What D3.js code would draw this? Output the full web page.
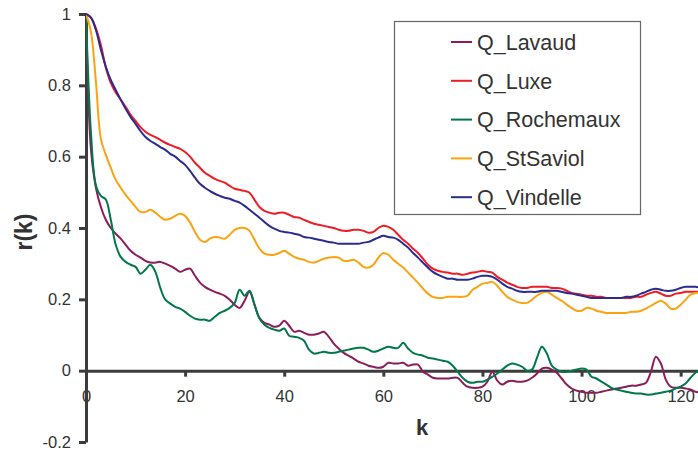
<!DOCTYPE html>
<html>
<head>
<meta charset="utf-8">
<script src="https://cdn.jsdelivr.net/npm/d3@7"></script>
<style>
  body { margin: 0; background: #fff; }
  svg { display: block; font-family: "Liberation Sans", Arial, sans-serif; }
</style>
</head>
<body>
<div id="graph"></div>
<script>
// autocorrelation r(k), lags 0..124
const lavaud = [
  1.0, 0.62, 0.513, 0.459, 0.423, 0.40, 0.384, 0.37, 0.353, 0.336,
  0.325, 0.317, 0.308, 0.303, 0.303, 0.305, 0.30, 0.294, 0.286, 0.277,
  0.283, 0.286, 0.266, 0.247, 0.235, 0.227, 0.221, 0.216, 0.21, 0.199,
  0.185, 0.176, 0.196, 0.221, 0.185, 0.148, 0.134, 0.129, 0.123, 0.126,
  0.14, 0.126, 0.109, 0.112, 0.106, 0.101, 0.101, 0.104, 0.109, 0.095,
  0.076, 0.062, 0.05, 0.042, 0.034, 0.025, 0.02, 0.014, 0.011, 0.008,
  0.011, 0.022, 0.02, 0.02, 0.022, 0.014, 0.017, 0.017, -0.003, -0.011,
  -0.02, -0.022, -0.022, -0.022, -0.02, -0.02, -0.034, -0.045, -0.048, -0.048,
  -0.045, -0.031, -0.003, -0.028, -0.039, -0.031, -0.028, -0.031, -0.031, -0.028,
  -0.02, -0.008, 0.006, 0.008, 0.003, -0.006, -0.022, -0.039, -0.05, -0.056,
  -0.059, -0.062, -0.062, -0.062, -0.059, -0.056, -0.053, -0.05, -0.048, -0.045,
  -0.042, -0.042, -0.039, -0.034, -0.003, 0.039, 0.02, -0.025, -0.045, -0.048,
  -0.048, -0.05, -0.053, -0.059, -0.062,
];
const luxe = [
  1.0, 0.99, 0.96, 0.913, 0.85, 0.807, 0.78, 0.76, 0.74, 0.717,
  0.70, 0.683, 0.67, 0.661, 0.655, 0.647, 0.639, 0.633, 0.627, 0.622,
  0.613, 0.60, 0.583, 0.569, 0.555, 0.546, 0.538, 0.532, 0.527, 0.518,
  0.51, 0.507, 0.504, 0.499, 0.479, 0.459, 0.448, 0.443, 0.44, 0.443,
  0.443, 0.437, 0.431, 0.429, 0.423, 0.417, 0.412, 0.409, 0.406, 0.403,
  0.40, 0.395, 0.392, 0.392, 0.395, 0.395, 0.392, 0.387, 0.389, 0.40,
  0.406, 0.403, 0.395, 0.381, 0.367, 0.356, 0.342, 0.33, 0.314, 0.297,
  0.286, 0.28, 0.277, 0.275, 0.272, 0.272, 0.269, 0.272, 0.275, 0.277,
  0.28, 0.277, 0.275, 0.263, 0.255, 0.247, 0.241, 0.235, 0.232, 0.232,
  0.235, 0.235, 0.235, 0.235, 0.232, 0.232, 0.23, 0.224, 0.218, 0.216,
  0.213, 0.21, 0.21, 0.207, 0.207, 0.204, 0.204, 0.204, 0.204, 0.204,
  0.204, 0.207, 0.207, 0.213, 0.218, 0.221, 0.216, 0.21, 0.21, 0.216,
  0.218, 0.221, 0.221, 0.221, 0.221,
];
const rochemaux = [
  1.0, 0.667, 0.52, 0.49, 0.48, 0.423, 0.353, 0.319, 0.305, 0.297,
  0.291, 0.272, 0.283, 0.297, 0.277, 0.232, 0.199, 0.188, 0.179, 0.174,
  0.165, 0.154, 0.146, 0.143, 0.143, 0.14, 0.151, 0.162, 0.168, 0.176,
  0.19, 0.227, 0.21, 0.224, 0.185, 0.146, 0.129, 0.12, 0.115, 0.112,
  0.118, 0.098, 0.095, 0.092, 0.084, 0.059, 0.048, 0.05, 0.053, 0.05,
  0.05, 0.053, 0.056, 0.059, 0.062, 0.064, 0.064, 0.059, 0.053, 0.056,
  0.062, 0.067, 0.064, 0.064, 0.078, 0.062, 0.05, 0.045, 0.042, 0.036,
  0.034, 0.031, 0.028, 0.025, 0.014, -0.003, -0.02, -0.031, -0.034, -0.031,
  -0.031, -0.025, -0.017, -0.008, 0.003, 0.014, 0.02, 0.017, 0.011, 0.0,
  0.003, 0.036, 0.067, 0.048, 0.014, 0.003, -0.003, -0.003, 0.0, 0.003,
  0.006, 0.003, -0.017, -0.022, -0.031, -0.039, -0.048, -0.053, -0.056, -0.059,
  -0.062, -0.064, -0.064, -0.067, -0.067, -0.064, -0.062, -0.059, -0.056, -0.05,
  -0.045, -0.036, -0.02, -0.006, 0.003,
];
const stsaviol = [
  1.0, 0.95, 0.81, 0.65, 0.605, 0.569, 0.535, 0.513, 0.493, 0.476,
  0.459, 0.445, 0.445, 0.451, 0.443, 0.431, 0.423, 0.426, 0.434, 0.44,
  0.434, 0.415, 0.389, 0.367, 0.361, 0.37, 0.375, 0.373, 0.37, 0.381,
  0.395, 0.40, 0.40, 0.392, 0.367, 0.342, 0.328, 0.325, 0.325, 0.33,
  0.336, 0.328, 0.319, 0.314, 0.311, 0.305, 0.303, 0.308, 0.314, 0.317,
  0.319, 0.317, 0.308, 0.308, 0.311, 0.303, 0.291, 0.289, 0.297, 0.317,
  0.33, 0.325, 0.311, 0.30, 0.289, 0.275, 0.261, 0.246, 0.23, 0.216,
  0.207, 0.204, 0.204, 0.207, 0.207, 0.207, 0.207, 0.21, 0.227, 0.235,
  0.244, 0.246, 0.249, 0.238, 0.221, 0.207, 0.199, 0.193, 0.19, 0.19,
  0.199, 0.21, 0.218, 0.221, 0.213, 0.204, 0.196, 0.185, 0.176, 0.168,
  0.168, 0.176, 0.174, 0.168, 0.165, 0.162, 0.162, 0.162, 0.162, 0.162,
  0.165, 0.165, 0.168, 0.174, 0.182, 0.19, 0.196, 0.188, 0.174, 0.174,
  0.185, 0.199, 0.213, 0.218, 0.218,
];
const vindelle = [
  1.0, 0.99, 0.955, 0.9, 0.852, 0.815, 0.787, 0.76, 0.734, 0.711,
  0.692, 0.672, 0.655, 0.644, 0.636, 0.627, 0.619, 0.608, 0.6, 0.588,
  0.577, 0.56, 0.541, 0.524, 0.513, 0.504, 0.496, 0.49, 0.485, 0.482,
  0.476, 0.471, 0.462, 0.451, 0.44, 0.429, 0.417, 0.406, 0.398, 0.392,
  0.389, 0.387, 0.384, 0.381, 0.375, 0.373, 0.37, 0.367, 0.364, 0.361,
  0.359, 0.356, 0.356, 0.356, 0.356, 0.356, 0.359, 0.361, 0.367, 0.373,
  0.378, 0.375, 0.373, 0.367, 0.356, 0.345, 0.33, 0.317, 0.303, 0.289,
  0.277, 0.269, 0.263, 0.258, 0.258, 0.255, 0.255, 0.255, 0.258, 0.263,
  0.266, 0.266, 0.263, 0.255, 0.244, 0.235, 0.23, 0.224, 0.221, 0.221,
  0.221, 0.221, 0.224, 0.224, 0.224, 0.224, 0.221, 0.218, 0.216, 0.213,
  0.21, 0.207, 0.204, 0.204, 0.204, 0.204, 0.204, 0.204, 0.204, 0.207,
  0.207, 0.21, 0.216, 0.221, 0.227, 0.23, 0.227, 0.224, 0.224, 0.227,
  0.232, 0.235, 0.235, 0.235, 0.232,
];
const seriesNames = ["Q_Lavaud", "Q_Luxe", "Q_Rochemaux", "Q_StSaviol", "Q_Vindelle"];
const seriesValues = [lavaud, luxe, rochemaux, stsaviol, vindelle];
const seriesColors = ["#8c1d5c", "#ee1c25", "#00784a", "#fca311", "#2b2b8f"];
const xTicks = [0, 20, 40, 60, 80, 100, 120];
const yTicks = [-0.2, 0, 0.2, 0.4, 0.6, 0.8, 1];

const w = 698;
const h = 451;
const plot = { left: 86, right: 698, top: 14, bottom: 442 };
const axisColor = "#3c3c3c";
const textColor = "#333";

const svg = d3.select("#graph").append("svg").attr("width", w).attr("height", h);

const x = d3.scaleLinear().domain([0, 123.5]).range([plot.left, plot.right]);
const y = d3.scaleLinear().domain([-0.2, 1]).range([plot.bottom, plot.top]);

const line = d3
  .line()
  .x((d) => x(d.k))
  .y((d) => y(d.r))
  .curve(d3.curveCatmullRom.alpha(0.5));

svg.append("defs").append("clipPath").attr("id", "clip")
  .append("rect").attr("x", plot.left).attr("y", 0).attr("width", plot.right - plot.left).attr("height", h);

// x axis sits at r = 0
const xAxis = svg
  .append("g")
  .attr("transform", `translate(0,${y(0)})`)
  .call(d3.axisBottom(x).tickValues(xTicks).tickSize(6).tickSizeOuter(0).tickPadding(14));
xAxis.select(".domain").attr("stroke", axisColor).attr("stroke-width", 3);
xAxis.selectAll(".tick line").attr("stroke", axisColor).attr("stroke-width", 3);
xAxis.selectAll(".tick text").attr("fill", textColor).attr("font-size", 16.5).attr("font-family", "Liberation Sans, Arial");

const yAxis = svg
  .append("g")
  .attr("transform", `translate(${plot.left},0)`)
  .call(d3.axisLeft(y).tickValues(yTicks).tickFormat((d) => String(+d.toFixed(1))).tickSize(7).tickSizeOuter(0).tickPadding(8));
yAxis.select(".domain").attr("stroke", axisColor).attr("stroke-width", 3);
yAxis.selectAll(".tick line").attr("stroke", axisColor).attr("stroke-width", 3);
yAxis.selectAll(".tick text").attr("fill", textColor).attr("font-size", 16.5).attr("font-family", "Liberation Sans, Arial");

const lines = svg.append("g").attr("clip-path", "url(#clip)");
seriesValues.forEach((vals, i) => {
  const pts = vals.map((r, k) => ({ k, r }));
  lines
    .append("path")
    .datum(pts)
    .attr("d", line)
    .attr("fill", "none")
    .attr("stroke", seriesColors[i])
    .attr("stroke-width", 2)
    .attr("stroke-linejoin", "round");
});

// axis titles
svg
  .append("text")
  .text("r(k)")
  .attr("transform", "translate(32,232) rotate(-90)")
  .attr("text-anchor", "middle")
  .attr("font-size", 23)
  .attr("font-weight", "bold")
  .attr("fill", textColor);
svg
  .append("text")
  .text("k")
  .attr("x", 422)
  .attr("y", 435)
  .attr("text-anchor", "middle")
  .attr("font-size", 22)
  .attr("font-weight", "bold")
  .attr("fill", textColor);

// legend
const legend = svg.append("g").attr("id", "legend");
legend
  .append("rect")
  .attr("x", 394.5)
  .attr("y", 21.5)
  .attr("width", 246)
  .attr("height", 193)
  .attr("fill", "#fff")
  .attr("stroke", "#666")
  .attr("stroke-width", 1.2);
const legend_item = legend
  .selectAll("g.item")
  .data(seriesNames)
  .enter()
  .append("g")
  .attr("class", "item")
  .attr("transform", (d, i) => `translate(451,${42 + i * 38.8})`);
legend_item
  .append("line")
  .attr("x1", 0)
  .attr("x2", 21)
  .attr("stroke", (d, i) => seriesColors[i])
  .attr("stroke-width", 2);
legend_item
  .append("text")
  .text((d) => d)
  .attr("x", 26)
  .attr("dy", "0.36em")
  .attr("font-size", 21.5)
  .attr("fill", textColor);
</script>
</body>
</html>
